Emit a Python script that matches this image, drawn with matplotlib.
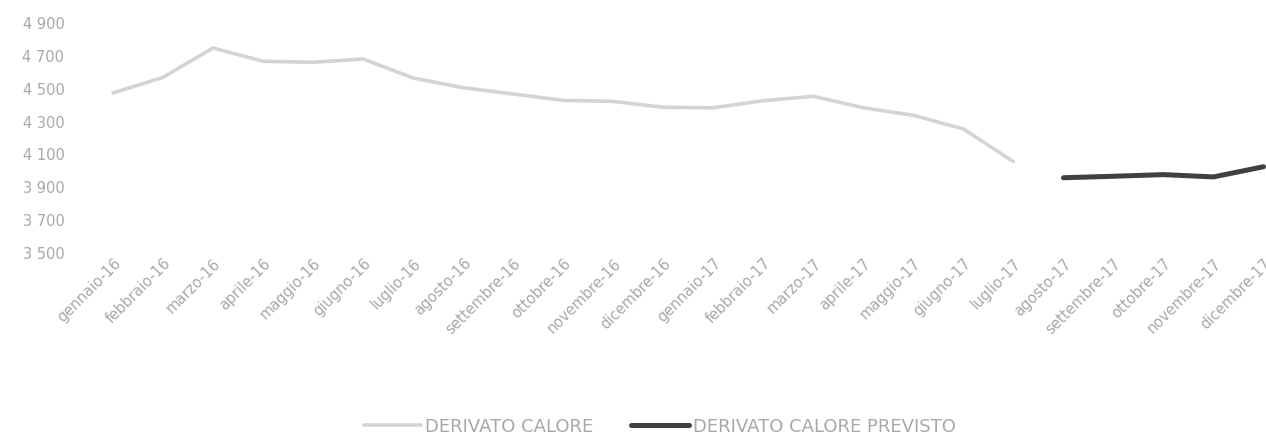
import matplotlib.pyplot as plt
from matplotlib.ticker import FuncFormatter

# ==============================
# Data
# ==============================

mesi = ["gennaio", "febbraio", "marzo", "aprile", "maggio", "giugno",
        "luglio", "agosto", "settembre", "ottobre", "novembre", "dicembre"]
etichette = [m + "-16" for m in mesi] + [m + "-17" for m in mesi]

# consuntivo gennaio-16 .. luglio-17
derivato_calore = [4468, 4563, 4742, 4661, 4655, 4675, 4559, 4500, 4462,
                   4423, 4417, 4381, 4378, 4421, 4448, 4378, 4332, 4249, 4050]
# previsione agosto-17 .. dicembre-17
derivato_previsto = [3952, 3961, 3971, 3957, 4019]

y_ticks = [3500, 3700, 3900, 4100, 4300, 4500, 4700, 4900]

# ==============================
# Plot
# ==============================

fig = plt.figure(figsize=(12.66, 4.39), dpi=100)
ax = fig.add_axes([88 / 1266, 1 - 253 / 439, 1 - 88 / 1266, 230 / 439])

x1 = list(range(len(derivato_calore)))
x2 = list(range(len(derivato_calore), len(derivato_calore) + len(derivato_previsto)))

ax.plot(x1, derivato_calore, color="#d4d4d4", lw=2.6, label="DERIVATO CALORE",
        solid_capstyle="round")
ax.plot(x2, derivato_previsto, color="#404040", lw=3.6, label="DERIVATO CALORE PREVISTO",
        solid_capstyle="round")

ax.set_xlim(-0.5, 23.05)
ax.set_ylim(3500, 4900)
ax.set_yticks(y_ticks)
ax.yaxis.set_major_formatter(FuncFormatter(lambda v, p: f"{int(v):,}".replace(",", " ")))
ax.set_xticks(range(len(etichette)))
ax.set_xticklabels(etichette, rotation=45, ha="right", rotation_mode="anchor")

ax.tick_params(axis="both", length=0, colors="#a8a8a8", labelsize=10.5)
ax.tick_params(axis="x", pad=2)
ax.tick_params(axis="y", pad=17)
for s in ax.spines.values():
    s.set_visible(False)

leg = fig.legend(loc="center", bbox_to_anchor=(0.521, 12 / 439), ncol=2, frameon=False,
                 handlelength=3.2, columnspacing=2.1, handletextpad=0.2, fontsize=13,
                 borderpad=0, borderaxespad=0)
for t in leg.get_texts():
    t.set_color("#a8a8a8")

fig.savefig("out.png", dpi=100)
